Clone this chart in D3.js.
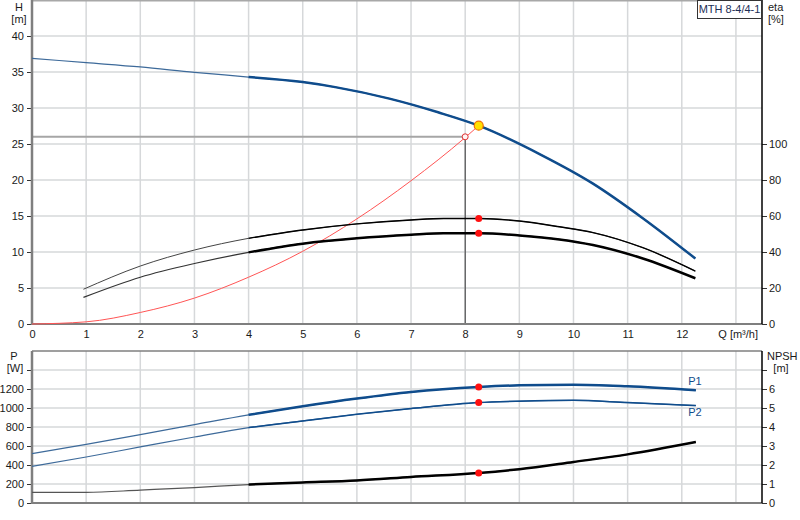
<!DOCTYPE html>
<html>
<head>
<meta charset="utf-8">
<script src="https://cdn.jsdelivr.net/npm/d3@7"></script>
<style>
  body { margin: 0; background: #fff; }
  svg text { font-family: "Liberation Sans", Arial, sans-serif; font-size: 11px; fill: #1a1a1a; }
</style>
</head>
<body>
<div id="chart"></div>
<script>
// pump curve data
const qTicks = [0, 1, 2, 3, 4, 5, 6, 7, 8, 9, 10, 11, 12];
const hTicks = [0, 5, 10, 15, 20, 25, 30, 35, 40];
const etaTicks = [0, 20, 40, 60, 80, 100];
const pTicks = [0, 200, 400, 600, 800, 1000, 1200];
const npshTicks = [0, 1, 2, 3, 4, 5, 6];

const qH = [0, 1, 2, 3, 4, 5, 5.6, 6.6, 7.5, 8.25, 9.4, 10.36, 11.28, 12.25];
const hVals = [36.9, 36.3, 35.7, 34.95, 34.3, 33.6, 32.9, 31.3, 29.4, 27.55, 23.5, 19.5, 14.7, 9.1];

const qEta = [0.95, 2, 3, 4, 5, 6, 7, 7.6, 8.27, 9, 9.74, 10.36, 11.28, 12.25];
const eta1 = [19.3, 32.2, 41.1, 47.6, 52.2, 55.6, 57.8, 58.6, 58.6, 57.2, 54, 50.8, 42.4, 29.4];
const eta2 = [14.8, 26, 33.6, 39.8, 44.6, 47.6, 49.6, 50.4, 50.4, 49.2, 47, 43.9, 36.4, 25.4];

const qSys = [0, 1, 2, 3, 4, 5, 6, 7, 8, 8.25];
const sysH = [0, 0.3, 1.6, 3.6, 6.5, 10.1, 14.6, 19.9, 25.9, 27.55];

const qP = [0, 1, 2, 3, 4, 5, 6, 7, 8.25, 9, 10, 11, 12.26];
const p1 = [520, 618, 720, 825, 928, 1018, 1099, 1168, 1221, 1239, 1246, 1228, 1186];
const p2 = [386, 484, 590, 695, 794, 864, 934, 994, 1057, 1072, 1081, 1057, 1026];
const npsh = [0.56, 0.56, 0.68, 0.81, 0.97, 1.08, 1.19, 1.37, 1.58, 1.78, 2.16, 2.56, 3.21];

const dutyQ = 8.25, dutyH = 27.55;
const reqQ = 8, reqH = 26;
const eta1Duty = 58.6, eta2Duty = 50.4, p1Duty = 1221, p2Duty = 1057, npshDuty = 1.58;
const pumpName = "MTH 8-4/4-1";

const blue = "#0f4c8c";
const gridColor = "#d6d8da";
const axisGray = "#7f7f7f";

const svg = d3.select("#chart").append("svg").attr("width", 800).attr("height", 520);

const x = d3.scaleLinear().domain([0, 13.5]).range([32, 763]);
const yH = d3.scaleLinear().domain([0, 45]).range([324, 0]);
const yEta = d3.scaleLinear().domain([0, 180]).range([324, 0]);
const yP = d3.scaleLinear().domain([0, 1600]).range([503, 351]);
const yN = d3.scaleLinear().domain([0, 8]).range([503, 351]);
const left = 32, right = 762;

// grids
function grid(g, yScale, yVals, top, bottom) {
    g.selectAll(".hg").data(yVals).join("line")
        .attr("x1", left).attr("x2", right)
        .attr("y1", d => yScale(d)).attr("y2", d => yScale(d))
        .attr("stroke", gridColor).attr("stroke-width", 1.5);
    g.selectAll(".vg").data(d3.range(1, 14)).join("line")
        .attr("class", "vg")
        .attr("x1", d => x(d)).attr("x2", d => x(d))
        .attr("y1", top).attr("y2", bottom)
        .attr("stroke", gridColor).attr("stroke-width", 1.5);
}
grid(svg.append("g"), yH, [5, 10, 15, 20, 25, 30, 35, 40], 0, 324);
grid(svg.append("g"), yP, [200, 400, 600, 800, 1000, 1200, 1400], 351, 503);

// top borders
svg.append("line").attr("x1", left).attr("x2", right).attr("y1", 0.75).attr("y2", 0.75)
    .attr("stroke", "#a8a8a8").attr("stroke-width", 1.5);
svg.append("line").attr("x1", left).attr("x2", right).attr("y1", 351).attr("y2", 351)
    .attr("stroke", axisGray).attr("stroke-width", 1.5);

// duty reference lines
svg.append("line").attr("x1", left).attr("x2", x(reqQ))
    .attr("y1", yH(reqH)).attr("y2", yH(reqH))
    .attr("stroke", "#a6a6a6").attr("stroke-width", 2);
svg.append("line").attr("x1", x(reqQ)).attr("x2", x(reqQ))
    .attr("y1", yH(reqH)).attr("y2", 324)
    .attr("stroke", "#333").attr("stroke-width", 1);

// axes
function styleAxis(g) {
    g.select(".domain").remove();
    g.selectAll(".tick line").attr("stroke", "#333");
    g.selectAll("text").style("font-size", "11px");
}
svg.append("g").attr("transform", `translate(${left},0)`)
    .call(d3.axisLeft(yH).tickValues(hTicks).tickSize(5).tickPadding(3)).call(styleAxis);
svg.append("g").attr("transform", `translate(${right},0)`)
    .call(d3.axisRight(yEta).tickValues(etaTicks).tickSize(5).tickPadding(2)).call(styleAxis);
svg.append("g").attr("transform", "translate(0,324)")
    .call(d3.axisBottom(x).tickValues(qTicks).tickFormat(d3.format("d")).tickSize(0).tickPadding(6))
    .call(styleAxis);
svg.append("g").attr("transform", `translate(${left},0)`)
    .call(d3.axisLeft(yP).tickValues(pTicks.concat([1400])).tickSize(5).tickPadding(3)
        .tickFormat(d => d === 1400 ? "" : d)).call(styleAxis);
svg.append("g").attr("transform", `translate(${right},0)`)
    .call(d3.axisRight(yN).tickValues(npshTicks.concat([7])).tickSize(5).tickPadding(2)
        .tickFormat(d => d === 7 ? "" : d)).call(styleAxis);

// axis lines
svg.append("line").attr("x1", left).attr("x2", left).attr("y1", 0).attr("y2", 325)
    .attr("stroke", axisGray).attr("stroke-width", 2.5);
svg.append("line").attr("x1", left).attr("x2", right).attr("y1", 324).attr("y2", 324)
    .attr("stroke", axisGray).attr("stroke-width", 2);
svg.append("line").attr("x1", right).attr("x2", right).attr("y1", 0).attr("y2", 324)
    .attr("stroke", "#000").attr("stroke-width", 1.5);
svg.append("line").attr("x1", left).attr("x2", left).attr("y1", 351).attr("y2", 504)
    .attr("stroke", axisGray).attr("stroke-width", 2.5);
svg.append("line").attr("x1", left).attr("x2", right).attr("y1", 503).attr("y2", 503)
    .attr("stroke", axisGray).attr("stroke-width", 2);
svg.append("line").attr("x1", right).attr("x2", right).attr("y1", 351).attr("y2", 503)
    .attr("stroke", "#000").attr("stroke-width", 1.5);

// axis titles
svg.append("text").attr("x", 19).attr("y", 11).attr("text-anchor", "middle").text("H");
svg.append("text").attr("x", 19).attr("y", 23).attr("text-anchor", "middle").text("[m]");
svg.append("text").attr("x", 768).attr("y", 11).text("eta");
svg.append("text").attr("x", 768).attr("y", 23).text("[%]");
svg.append("text").attr("x", 14).attr("y", 360).attr("text-anchor", "middle").text("P");
svg.append("text").attr("x", 15).attr("y", 372).attr("text-anchor", "middle").text("[W]");
svg.append("text").attr("x", 767).attr("y", 360).text("NPSH");
svg.append("text").attr("x", 781).attr("y", 372).attr("text-anchor", "middle").text("[m]");
svg.append("rect").attr("x", 731).attr("y", 326).attr("width", 30).attr("height", 14).attr("fill", "#fff");
svg.append("text").attr("x", 758).attr("y", 338).attr("text-anchor", "end").text("Q [m³/h]");

// curve helper: thin over whole range, thick from qThick on
function curve(qs, vs, yScale, color, thinW, thickW, qThick, thinColor) {
    const pts = qs.map((q, i) => [q, vs[i]]);
    const line = d3.line().x(d => x(d[0])).y(d => yScale(d[1])).curve(d3.curveMonotoneX);
    svg.append("path").attr("d", line(pts)).attr("fill", "none")
        .attr("stroke", thinColor || color).attr("stroke-width", thinW);
    if (qThick != null) {
        const thick = pts.filter(d => d[0] >= qThick);
        svg.append("path").attr("d", line(thick)).attr("fill", "none")
            .attr("stroke", color).attr("stroke-width", thickW).attr("stroke-linejoin", "round");
    }
}

// system curve
curve(qSys, sysH, yH, "#ff5555", 1, null, null);
// H curve
curve(qH, hVals, yH, blue, 1.2, 2.5, 4, "#3d6a9a");
// efficiency curves
curve(qEta, eta1, yEta, "#000", 1, 1.4, 4, "#444");
curve(qEta, eta2, yEta, "#000", 1.2, 2.5, 4, "#333");
// power and npsh
curve(qP, p1, yP, blue, 1.2, 2.5, 4, "#3d6a9a");
curve(qP, p2, yP, blue, 1.2, 1.5, 4, "#3d6a9a");
curve(qP, npsh, yN, "#000", 1.2, 2.5, 4, "#555");

// markers
const redDots = [[dutyQ, yEta(eta1Duty)], [dutyQ, yEta(eta2Duty)],
                 [dutyQ, yP(p1Duty)], [dutyQ, yP(p2Duty)], [dutyQ, yN(npshDuty)]];
svg.selectAll(".rd").data(redDots).join("circle")
    .attr("cx", d => x(d[0])).attr("cy", d => d[1]).attr("r", 3.5).attr("fill", "#ff1010");
svg.append("circle").attr("cx", x(reqQ)).attr("cy", yH(reqH)).attr("r", 3)
    .attr("fill", "#fff4f4").attr("stroke", "#e03030").attr("stroke-width", 1);
svg.append("circle").attr("cx", x(dutyQ)).attr("cy", yH(dutyH)).attr("r", 4.5)
    .attr("fill", "#ffe000").attr("stroke", "#f07000").attr("stroke-width", 1.2);

// P1 / P2 labels
svg.append("text").attr("x", 695).attr("y", 385).attr("text-anchor", "middle")
    .style("fill", blue).text("P1");
svg.append("text").attr("x", 695).attr("y", 416).attr("text-anchor", "middle")
    .style("fill", blue).text("P2");

// pump name box
svg.append("rect").attr("x", 697.5).attr("y", 0.5).attr("width", 64).attr("height", 18)
    .attr("fill", "#fff").attr("stroke", "#333").attr("stroke-width", 1);
svg.append("text").attr("x", 729.5).attr("y", 13).attr("text-anchor", "middle")
    .style("fill", "#1c2f57").text(pumpName);
</script>
</body>
</html>
